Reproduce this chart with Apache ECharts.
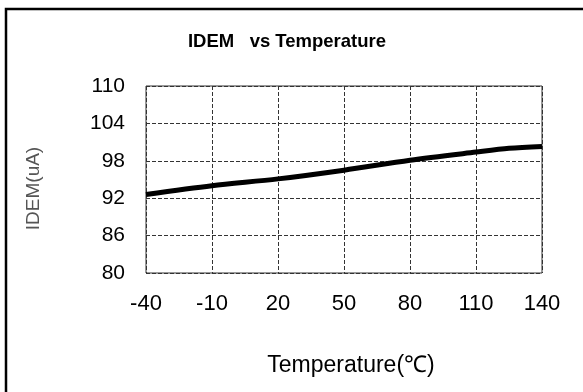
<!DOCTYPE html>
<html>
<head>
<meta charset="utf-8">
<script src="https://cdn.jsdelivr.net/npm/echarts@6/dist/echarts.min.js"></script>
<style>
  html, body { margin: 0; padding: 0; background: #fff; }
  #chart { width: 583px; height: 392px; }
</style>
</head>
<body>
<div id="chart"></div>
<script>
const temps = [-40, -10, 20, 50, 80, 110, 125, 140];
const idem = [92.6, 94.0, 95.1, 96.5, 98.1, 99.4, 100.0, 100.3];

const chart = echarts.init(document.getElementById('chart'));
const option = {
  animation: false,
  backgroundColor: '#fff',
  title: {
    text: 'IDEM   vs Temperature',
    left: 282,
    top: 27,
    textAlign: 'center',
    textStyle: {
      fontFamily: 'Liberation Sans',
      fontSize: 18.5,
      fontWeight: 'bold',
      color: '#000',
    },
  },
  graphic: [{
    type: 'rect',
    shape: { x: 6, y: 9, width: 700, height: 500 },
    style: { fill: 'none', stroke: '#000', lineWidth: 2.5 },
    z: 100,
  }],
  grid: {
    left: 146,
    right: 41,
    top: 86,
    bottom: 119,
    show: true,
    borderColor: '#333',
    borderWidth: 1,
  },
  xAxis: {
    type: 'value',
    min: -40,
    max: 140,
    interval: 30,
    name: 'Temperature(℃)',
    nameLocation: 'middle',
    nameGap: 81,
    nameTextStyle: { fontFamily: 'Liberation Sans', fontSize: 23, color: '#000', padding: [0, 0, 0, 14] },
    axisLine: { show: false },
    axisTick: { show: false },
    axisLabel: { fontFamily: 'Liberation Sans', fontSize: 22, color: '#000', margin: 20 },
    splitLine: { lineStyle: { type: 'dashed', color: '#333', width: 1 } },
  },
  yAxis: {
    type: 'value',
    min: 80,
    max: 110,
    interval: 6,
    name: 'IDEM(uA)',
    nameLocation: 'middle',
    nameGap: 103,
    nameTextStyle: { fontFamily: 'Liberation Sans', fontSize: 19, color: '#555', padding: [0, 0, 0, -18] },
    axisLine: { show: false },
    axisTick: { show: false },
    axisLabel: { fontFamily: 'Liberation Sans', fontSize: 21, color: '#000', margin: 21 },
    splitLine: { lineStyle: { type: 'dashed', color: '#333', width: 1 } },
  },
  series: [{
    type: 'line',
    data: temps.map((t, i) => [t, idem[i]]),
    smooth: 0.3,
    symbol: 'none',
    lineStyle: { color: '#000', width: 5 },
  }],
};
chart.setOption(option);
</script>
</body>
</html>
